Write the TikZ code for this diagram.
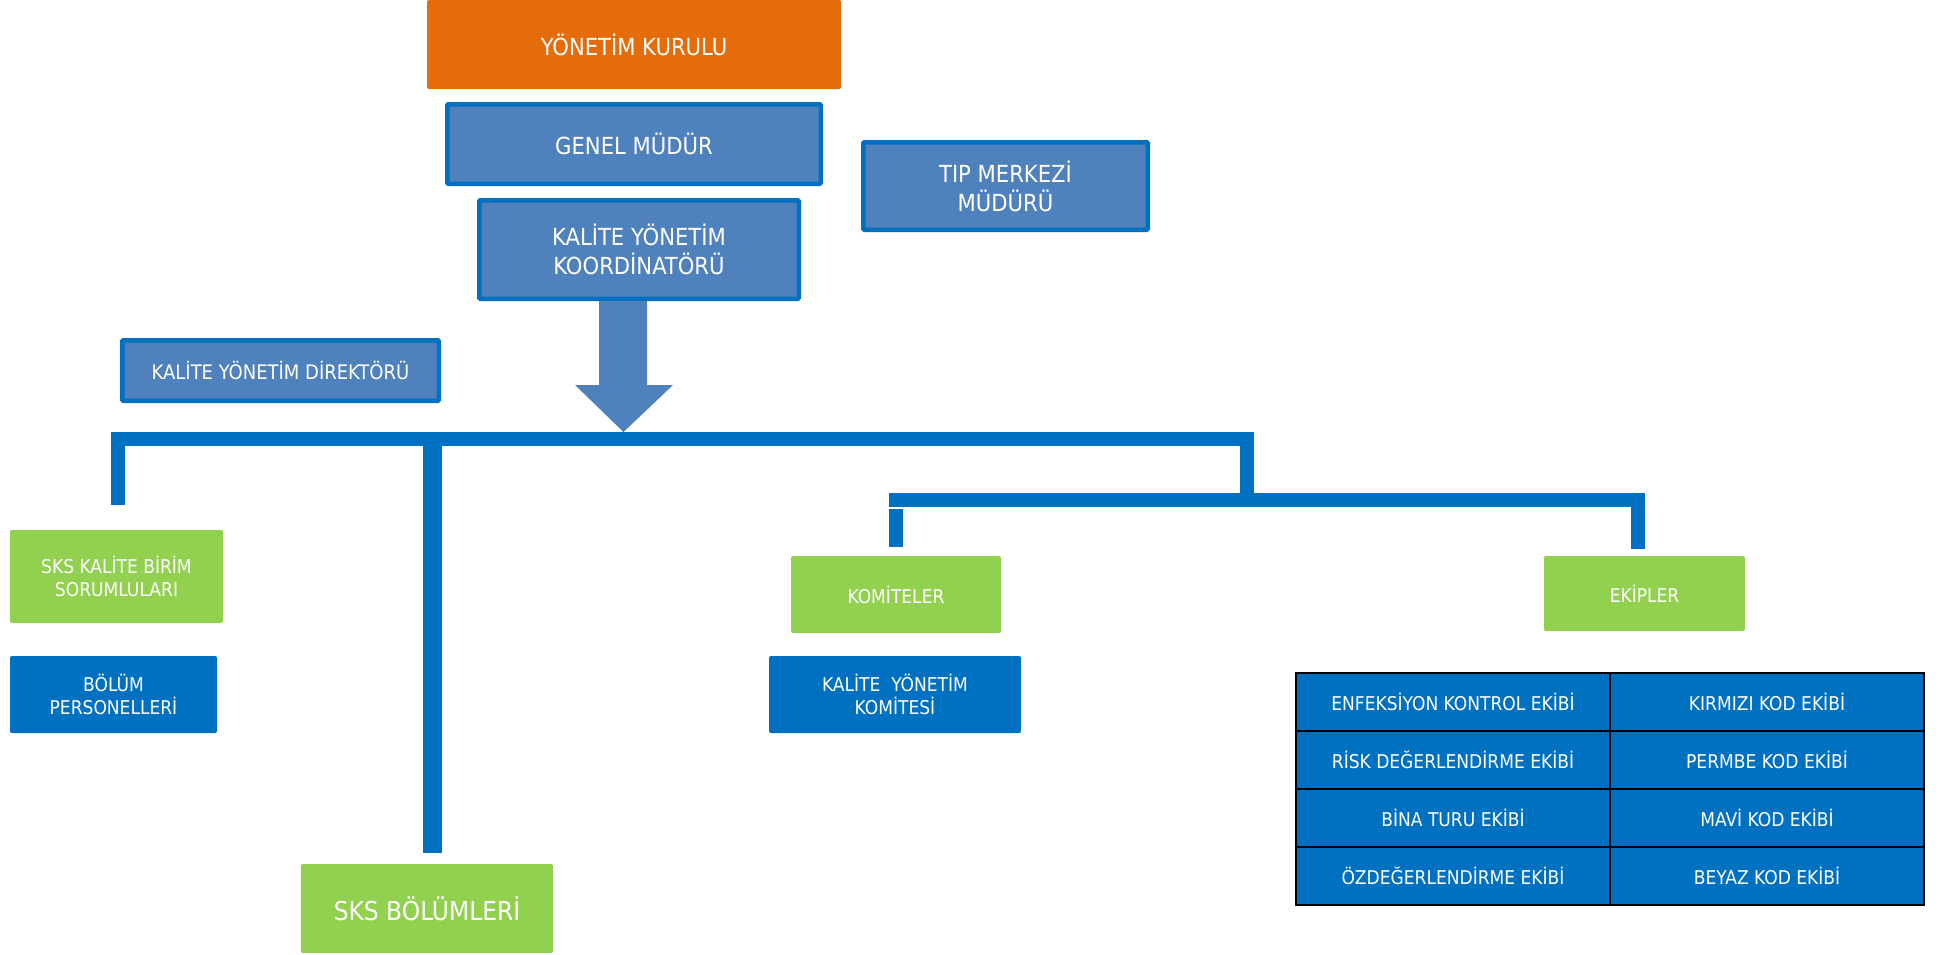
\documentclass[tikz,border=0pt]{standalone}
\usepackage{fontspec}
\setmainfont{DejaVu Sans Condensed}
\definecolor{orng}{HTML}{E46C0A}
\definecolor{bfill}{HTML}{4F81BD}
\definecolor{bline}{HTML}{0070C0}
\definecolor{grn}{HTML}{92D050}
\begin{document}
\begin{tikzpicture}[x=1pt,y=-1pt,
  box/.style={inner sep=0pt, align=center, text=white, rounded corners=2pt},
  bigfont/.style={font=\fontsize{23.5}{29}\selectfont},
  midfont/.style={font=\fontsize{20}{24}\selectfont},
  smallfont/.style={font=\fontsize{19}{23}\selectfont},
  topbox/.style={box, fill=bfill, draw=bline, line width=4.5pt, rounded corners=1pt},
  greenbox/.style={box, fill=grn, smallfont},
  bluebox/.style={box, fill=bline, smallfont},
  cell/.style={inner sep=0pt, fill=bline, draw=black, line width=2pt, text=white, smallfont, minimum width=314pt, minimum height=58pt},
  bar/.style={draw=bline, line width=14pt, line cap=butt, line join=miter},
  bigarrow/.style={fill=bfill}
]
\useasboundingbox (0,0) rectangle (1940,954);

% top boxes
\node[box, fill=orng, bigfont, minimum width=414pt, minimum height=89pt] (yk) at (634,44.5) {YÖNETİM KURULU};
\node[topbox, bigfont, minimum width=373.5pt, minimum height=79.5pt] (gm) at (634,144) {GENEL MÜDÜR};
\node[topbox, bigfont, minimum width=284.5pt, minimum height=87.5pt] (tip) at (1005.5,186) {TIP MERKEZİ\\MÜDÜRÜ};
\node[topbox, bigfont, minimum width=319.5pt, minimum height=98.5pt] (kyk) at (639,249.5) {KALİTE YÖNETİM\\KOORDİNATÖRÜ};
\node[topbox, midfont, minimum width=316.5pt, minimum height=60.5pt] (kyd) at (280.5,370.5) {KALİTE YÖNETİM DİREKTÖRÜ};

% lower boxes
\node[greenbox, minimum width=213pt, minimum height=93pt] (skskbs) at (116.5,576.5) {SKS KALİTE BİRİM\\SORUMLULARI};
\node[bluebox, minimum width=207pt, minimum height=77pt] (bp) at (113.5,694.5) {BÖLÜM\\PERSONELLERİ};
\node[box, fill=grn, font=\fontsize{26}{31}\selectfont, minimum width=252pt, minimum height=89pt] (sksb) at (427,908.5) {SKS BÖLÜMLERİ};
\node[greenbox, minimum width=210pt, minimum height=77pt] (kom) at (896,594.5) {KOMİTELER};
\node[bluebox, minimum width=252pt, minimum height=77pt] (kykom) at (895,694.5) {KALİTE\ \ YÖNETİM\\KOMİTESİ};
\node[greenbox, minimum width=201pt, minimum height=75pt] (ekip) at (1644.5,593.5) {EKİPLER};

% table
\node[cell] (c11) at (1453,702) {ENFEKSİYON KONTROL EKİBİ};
\node[cell] (c12) at (1767,702) {KIRMIZI KOD EKİBİ};
\node[cell] (c21) at (1453,760) {RİSK DEĞERLENDİRME EKİBİ};
\node[cell] (c22) at (1767,760) {PERMBE KOD EKİBİ};
\node[cell] (c31) at (1453,818) {BİNA TURU EKİBİ};
\node[cell] (c32) at (1767,818) {MAVİ KOD EKİBİ};
\node[cell] (c41) at (1453,876) {ÖZDEĞERLENDİRME EKİBİ};
\node[cell] (c42) at (1767,876) {BEYAZ KOD EKİBİ};

% big arrow from kyk to the bar
\coordinate (tipA) at (623.5,432);
\fill[bigarrow] (599,301) -- (647,301) -- (647,385) -- (673,385) -- (tipA) -- (575,385) -- (599,385) -- cycle;

% bars
\coordinate (lb) at (118,505);
\coordinate (lt) at (118,439);
\coordinate (rt) at (1246.5,439);
\coordinate (rb) at (1246.5,499.5);
\draw[bar] (lb) -- (lt) -- (rt) -- (rb);
\coordinate (s1) at (889,499.5);
\coordinate (s2) at (1638,499.5);
\coordinate (s3) at (1638,549);
\draw[bar] (s1) -- (s2) -- (s3);
\coordinate (k1) at (896,509);
\coordinate (k2) at (896,547);
\draw[bar] (k1) -- (k2);
\coordinate (d1) at (432.5,440);
\coordinate (d2) at (432.5,853);
\draw[bar, line width=19pt] (d1) -- (d2);
\end{tikzpicture}
\end{document}
